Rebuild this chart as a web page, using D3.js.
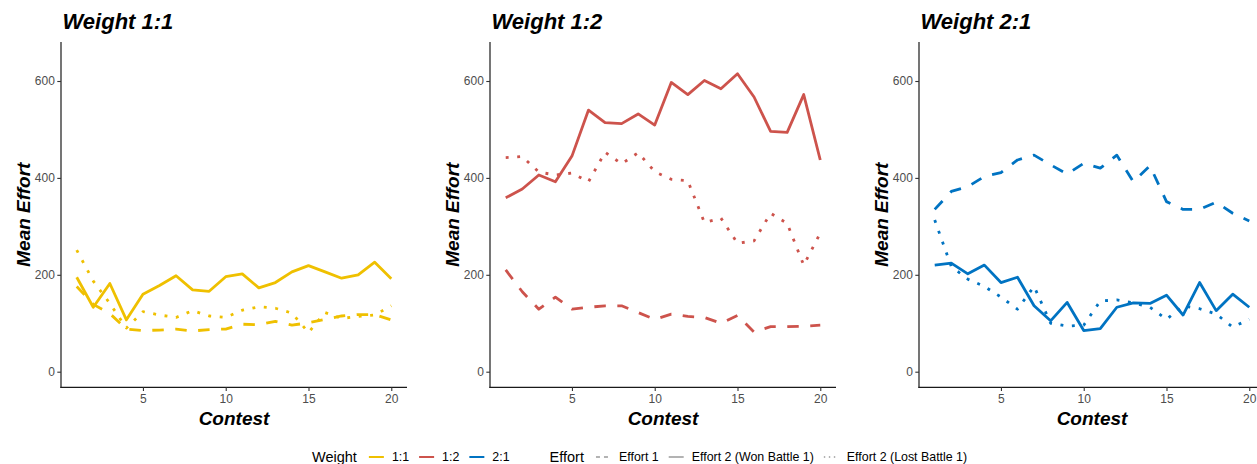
<!DOCTYPE html>
<html>
<head>
<meta charset="utf-8">
<script src="https://cdn.jsdelivr.net/npm/d3@7"></script>
<style>
  html, body { margin: 0; padding: 0; background: #fff; }
  svg { display: block; font-family: "Liberation Sans", Arial, sans-serif; }
</style>
</head>
<body>
<svg id="chart" width="1257" height="464"></svg>
<script>
// Contest index shared by every panel
const contests = [1,2,3,4,5,6,7,8,9,10,11,12,13,14,15,16,17,18,19,20];

const weightLevels = ["1:1", "1:2", "2:1"];
const panelTitles = ["Weight 1:1", "Weight 1:2", "Weight 2:1"];
const weightColors = ["#EFC000", "#CD534C", "#0073C2"];

const effortLevels = ["Effort 1", "Effort 2 (Won Battle 1)", "Effort 2 (Lost Battle 1)"];

const yTicks = [0, 200, 400, 600];
const xTicks = [5, 10, 15, 20];

// Weight 1:1
const effort1_w11 = [176,139,120,88,85,86,88,84,87,88,98,97,104,96,101,108,115,118,118,107];
const won_w11     = [195,133,182,107,160,178,198,169,166,196,202,173,184,206,219,206,193,200,226,192];
const lost_w11    = [251,187,141,90,124,117,112,126,115,112,127,134,131,121,81,122,110,114,117,136];

// Weight 1:2
const effort1_w12 = [210,165,129,154,129,133,136,136,122,108,119,114,112,100,116,82,93,93,94,96];
const won_w12     = [359,377,406,392,445,540,514,512,532,509,597,572,601,584,615,567,496,494,572,437];
const lost_w12    = [442,444,412,406,410,392,453,429,452,413,397,394,308,317,265,270,327,306,220,286];

// Weight 2:1
const effort1_w21 = [335,372,382,403,411,437,447,427,408,430,420,447,392,425,351,335,335,350,327,311];
const won_w21     = [220,224,202,220,184,195,136,105,143,85,89,133,142,141,158,117,184,126,160,133];
const lost_w21    = [313,217,191,176,154,129,176,100,94,96,146,148,142,133,108,136,130,119,92,108];

const panelSeries = [
  [effort1_w11, won_w11, lost_w11],
  [effort1_w12, won_w12, lost_w12],
  [effort1_w21, won_w21, lost_w21]
];

const svg = d3.select("#chart");

const panelLeft = [61, 490, 919];
const panelWidth = 346;
const plotTop = 42, plotBottom = 387.3;

const y = d3.scaleLinear().domain([-32.2, 680.5]).range([plotBottom, plotTop]);

const lineWidth = 2.8;
const dashFor = ["11.5,11.5", null, "2.9,8.6"];

panelLeft.forEach((left, p) => {
  const x = d3.scaleLinear().domain([0.05, 20.95]).range([left, left + panelWidth]);
  const g = svg.append("g");

  // series lines
  const line = d3.line().x((d, i) => x(contests[i])).y(d => y(d));
  panelSeries[p].forEach((vals, s) => {
    g.append("path")
      .attr("d", line(vals))
      .attr("fill", "none")
      .attr("stroke", weightColors[p])
      .attr("stroke-width", lineWidth)
      .attr("stroke-linejoin", "round")
      .attr("stroke-linecap", "butt")
      .attr("stroke-dasharray", dashFor[s]);
  });

  // y axis
  const yAxis = g.append("g")
    .attr("transform", `translate(${left},0)`)
    .call(d3.axisLeft(y).tickValues(yTicks).tickSize(3.7).tickPadding(2.5).tickSizeOuter(0));
  // x axis
  const xAxis = g.append("g")
    .attr("transform", `translate(0,${plotBottom})`)
    .call(d3.axisBottom(x).tickValues(xTicks).tickSize(3.7).tickPadding(3).tickSizeOuter(0));

  [yAxis, xAxis].forEach(ax => {
    ax.select(".domain").attr("stroke", "#1a1a1a").attr("stroke-width", 1.2);
    ax.selectAll(".tick line").attr("stroke", "#333").attr("stroke-width", 1.1);
    ax.selectAll(".tick text")
      .attr("fill", "#4D4D4D")
      .style("font-size", "12px")
      .style("font-family", "'Liberation Sans', Arial, sans-serif");
  });
  // extend axis lines to meet at the corner
  yAxis.select(".domain").attr("d", `M0,${plotTop}V${plotBottom + 0.6}`);
  xAxis.select(".domain").attr("d", `M${left - 0.6},0H${left + panelWidth}`);

  // panel title
  g.append("text")
    .attr("x", left + 1.5)
    .attr("y", 29)
    .attr("font-size", 22)
    .attr("font-weight", "bold")
    .attr("font-style", "italic")
    .attr("fill", "#000")
    .text(panelTitles[p]);

  // axis titles
  g.append("text")
    .attr("transform", `translate(${left - 31},${(plotTop + plotBottom) / 2}) rotate(-90)`)
    .attr("text-anchor", "middle")
    .attr("font-size", 19)
    .attr("font-weight", "bold")
    .attr("font-style", "italic")
    .attr("fill", "#000")
    .text("Mean Effort");

  g.append("text")
    .attr("x", left + panelWidth / 2)
    .attr("y", 424.5)
    .attr("text-anchor", "middle")
    .attr("font-size", 19)
    .attr("font-weight", "bold")
    .attr("font-style", "italic")
    .attr("fill", "#000")
    .text("Contest");
});

// legend along the bottom
const legend = svg.append("g");
const legY = 457;
let cx = 312;

function legendTitle(txt) {
  const t = legend.append("text")
    .attr("x", cx).attr("y", legY + 5.2)
    .attr("font-size", 14.5).attr("fill", "#000").text(txt);
  cx += t.node().getComputedTextLength() + 12;
}
function legendItem(label, color, width, dash) {
  legend.append("line")
    .attr("x1", cx).attr("x2", cx + 15)
    .attr("y1", legY).attr("y2", legY)
    .attr("stroke", color).attr("stroke-width", width)
    .attr("stroke-dasharray", dash);
  cx += 23;
  const t = legend.append("text")
    .attr("x", cx).attr("y", legY + 4.3)
    .attr("font-size", 12.4).attr("fill", "#000").text(label);
  cx += t.node().getComputedTextLength() + 10;
}

legendTitle("Weight");
weightLevels.forEach((w, i) => legendItem(w, weightColors[i], 2, null));
cx += 30;
legendTitle("Effort");
const keyDash = ["4,4", null, "1.4,3.6"];
effortLevels.forEach((e, i) => legendItem(e, "#9a9a9a", 1.5, keyDash[i]));
</script>
</body>
</html>
